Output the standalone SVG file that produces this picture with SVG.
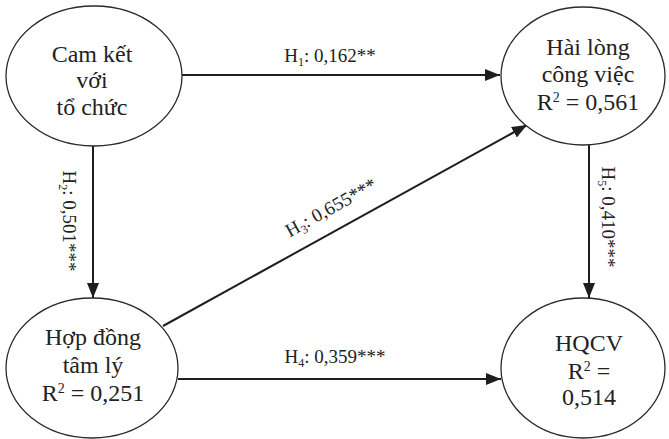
<svg xmlns="http://www.w3.org/2000/svg" width="669" height="439" viewBox="0 0 669 439">
<style>
.node ellipse{fill:#fff;stroke:#2a2a2a;stroke-width:1.3}
.nt{font-family:"Liberation Serif","Times New Roman",serif;font-size:24px;fill:#222;text-anchor:middle}
.lbl{font-family:"Liberation Serif","Times New Roman",serif;font-size:19px;fill:#222;text-anchor:middle}
.sub{font-size:12px}
.sup{font-size:14px}
#connectors line{stroke:#1e1e1e;stroke-width:2}
</style>
<defs>
<marker id="ah" markerUnits="userSpaceOnUse" markerWidth="16" markerHeight="12" refX="15" refY="6" orient="auto">
<path d="M0,0 L15,6 L0,12 Z" fill="#1e1e1e"/>
</marker>
</defs>
<rect width="669" height="439" fill="#fff"/>
<g id="connectors">
<line x1="182" y1="75" x2="500" y2="75" marker-end="url(#ah)"/>
<line x1="93" y1="145" x2="93" y2="298" marker-end="url(#ah)"/>
<line x1="163" y1="326" x2="527" y2="125" marker-end="url(#ah)"/>
<line x1="178" y1="379" x2="501" y2="379" marker-end="url(#ah)"/>
<line x1="589" y1="145" x2="589" y2="298" marker-end="url(#ah)"/>
<text class="lbl" x="330" y="62">H<tspan class="sub" dy="4">1</tspan><tspan dy="-4">: 0,162**</tspan></text>
<text class="lbl" transform="translate(63,221) rotate(90)">H<tspan class="sub" dy="4">2</tspan><tspan dy="-4">: 0,501***</tspan></text>
<text class="lbl" transform="translate(334,213) rotate(-29)">H<tspan class="sub" dy="4">3</tspan><tspan dy="-4">: 0,655***</tspan></text>
<text class="lbl" x="335" y="363">H<tspan class="sub" dy="4">4</tspan><tspan dy="-4">: 0,359***</tspan></text>
<text class="lbl" transform="translate(602,217) rotate(90)">H<tspan class="sub" dy="4">5</tspan><tspan dy="-4">: 0,410***</tspan></text>
</g>
<g id="cam-ket" class="node">
<ellipse cx="94" cy="76" rx="88" ry="70"/>
<text class="nt" x="92" y="62">Cam kết</text>
<text class="nt" x="92" y="88">với</text>
<text class="nt" x="92" y="115">tổ chức</text>
</g>
<g id="hai-long" class="node">
<ellipse cx="583" cy="76" rx="82" ry="69"/>
<text class="nt" x="588" y="55">Hài lòng</text>
<text class="nt" x="588" y="82">công việc</text>
<text class="nt" x="588" y="110">R<tspan class="sup" dy="-8">2</tspan><tspan dy="8"> = 0,561</tspan></text>
</g>
<g id="hop-dong" class="node">
<ellipse cx="92" cy="368" rx="86" ry="70"/>
<text class="nt" x="93" y="345">Hợp đồng</text>
<text class="nt" x="93" y="373">tâm lý</text>
<text class="nt" x="93" y="401">R<tspan class="sup" dy="-8">2</tspan><tspan dy="8"> = 0,251</tspan></text>
</g>
<g id="hqcv" class="node">
<ellipse cx="583" cy="368" rx="82" ry="70"/>
<text class="nt" x="589" y="351">HQCV</text>
<text class="nt" x="589" y="379">R<tspan class="sup" dy="-8">2</tspan><tspan dy="8"> =</tspan></text>
<text class="nt" x="589" y="405">0,514</text>
</g>
</svg>
